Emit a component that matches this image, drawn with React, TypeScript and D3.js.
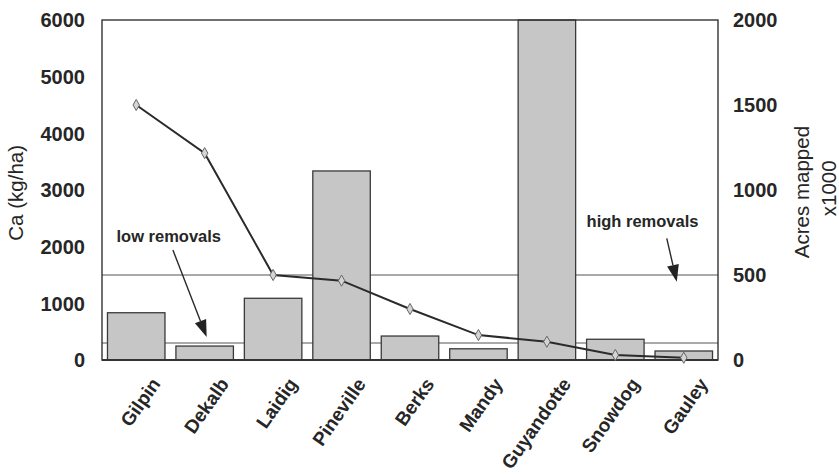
import { useEffect, useRef } from 'react';
import * as d3 from 'd3';

// watersheds / soil series along the x axis
const categories = ['Gilpin', 'Dekalb', 'Laidig', 'Pineville', 'Berks', 'Mandy', 'Guyandotte', 'Snowdog', 'Gauley'];
// bars: acres mapped (x1000), right axis
const acresMapped = [278, 82, 363, 1112, 141, 66, 2000, 122, 53];
// line: Ca (kg/ha), left axis
const calcium = [4500, 3650, 1500, 1400, 900, 440, 323, 88, 40];

const leftTicks = [0, 1000, 2000, 3000, 4000, 5000, 6000];
const rightTicks = [0, 500, 1000, 1500, 2000];
const refLines = [100, 500]; // right-axis reference lines

export default function App() {
  const svgRef = useRef<SVGSVGElement>(null);

  useEffect(() => {
    document.body.style.margin = '0';
    if (!svgRef.current) return;
    const svg = d3.select(svgRef.current);
    svg.selectAll('*').remove();

    const W = 839, H = 475;
    const m = { t: 20, r: 121, b: 115, l: 102 };
    const x0 = m.l, x1 = W - m.r, y0 = H - m.b, y1 = m.t;
    const font = 'Liberation Sans, Arial, Helvetica, sans-serif';
    const ink = '#262626';

    svg.append('rect').attr('width', W).attr('height', H).attr('fill', '#fff');

    const x = d3.scaleBand<string>().domain(categories).range([x0, x1]).paddingInner(0.16).paddingOuter(0.08);
    const yL = d3.scaleLinear().domain([0, 6000]).range([y0, y1]);
    const yR = d3.scaleLinear().domain([0, 2000]).range([y0, y1]);
    const cx = (c: string) => (x(c) ?? 0) + x.bandwidth() / 2;

    const g = svg.append('g');

    // reference lines
    g.selectAll('line.ref').data(refLines).enter().append('line')
      .attr('x1', x0).attr('x2', x1).attr('y1', d => yR(d)).attr('y2', d => yR(d))
      .attr('stroke', '#555').attr('stroke-width', 1);

    // bars
    g.selectAll('rect.bar').data(categories).enter().append('rect')
      .attr('x', d => x(d) ?? 0).attr('width', x.bandwidth())
      .attr('y', (_, i) => yR(acresMapped[i])).attr('height', (_, i) => y0 - yR(acresMapped[i]))
      .attr('fill', '#c6c6c6').attr('stroke', '#3a3a3a').attr('stroke-width', 1.3);

    // frame
    g.append('rect').attr('x', x0).attr('y', y1).attr('width', x1 - x0).attr('height', y0 - y1)
      .attr('fill', 'none').attr('stroke', '#333').attr('stroke-width', 1.4);
    g.append('line').attr('x1', x0).attr('x2', x1).attr('y1', y0).attr('y2', y0)
      .attr('stroke', '#333').attr('stroke-width', 2.2);

    // Ca line
    const line = d3.line<number>().x((_, i) => cx(categories[i])).y(d => yL(d));
    g.append('path').datum(calcium).attr('d', line)
      .attr('fill', 'none').attr('stroke', '#2a2a2a').attr('stroke-width', 2);
    g.selectAll('path.pt').data(calcium).enter().append('path')
      .attr('d', d3.symbol().type(d3.symbolDiamond).size(36)())
      .attr('transform', (d, i) => `translate(${cx(categories[i])},${yL(d)})`)
      .attr('fill', '#d4d4d4').attr('stroke', '#666').attr('stroke-width', 1);

    // left axis labels
    g.selectAll('text.yl').data(leftTicks).enter().append('text')
      .attr('x', x0 - 17).attr('y', d => yL(d)).attr('dy', '0.36em')
      .attr('text-anchor', 'end').attr('font-family', font).attr('font-weight', 'bold')
      .attr('font-size', 20).attr('fill', ink).text(d => d);

    // right axis labels
    g.selectAll('text.yr').data(rightTicks).enter().append('text')
      .attr('x', x1 + 15).attr('y', d => yR(d)).attr('dy', '0.36em')
      .attr('text-anchor', 'start').attr('font-family', font).attr('font-weight', 'bold')
      .attr('font-size', 20).attr('fill', ink).text(d => d);

    // category labels
    g.selectAll('text.cat').data(categories).enter().append('text')
      .attr('transform', d => `translate(${cx(d) + 25},${y0 + 24}) rotate(-55)`)
      .attr('text-anchor', 'end').attr('font-family', font).attr('font-weight', 'bold')
      .attr('font-size', 19).attr('fill', ink).text(d => d);

    // axis titles
    g.append('text').attr('transform', `translate(23,${yL(2950)}) rotate(-90)`)
      .attr('text-anchor', 'middle').attr('font-family', font).attr('font-size', 20.5)
      .attr('fill', ink).text('Ca (kg/ha)');
    g.append('text').attr('transform', `translate(809,${yR(988)}) rotate(-90)`)
      .attr('text-anchor', 'middle').attr('font-family', font).attr('font-size', 20.5)
      .attr('fill', ink).text('Acres mapped');
    g.append('text').attr('transform', `translate(836,${yR(1010)}) rotate(-90)`)
      .attr('text-anchor', 'middle').attr('font-family', font).attr('font-size', 20.5)
      .attr('fill', ink).text('x1000');

    // annotations
    const arrow = (xa: number, ya: number, xb: number, yb: number) => {
      const ang = Math.atan2(yb - ya, xb - xa);
      const L = 17, hw = 6;
      const bx = xb - L * Math.cos(ang), by = yb - L * Math.sin(ang);
      g.append('line').attr('x1', xa).attr('y1', ya).attr('x2', bx).attr('y2', by)
        .attr('stroke', '#2a2a2a').attr('stroke-width', 1.4);
      const px = -Math.sin(ang) * hw, py = Math.cos(ang) * hw;
      g.append('path').attr('d', `M${xb},${yb}L${bx + px},${by + py}L${bx - px},${by - py}Z`)
        .attr('fill', '#222');
    };

    g.append('text').attr('x', (x('Gilpin') ?? 0) + 9).attr('y', yL(2090))
      .attr('font-family', font).attr('font-weight', 'bold').attr('font-size', 16.5)
      .attr('fill', ink).text('low removals');
    arrow((x('Dekalb') ?? 0) - 3, yL(1940), cx('Dekalb') + 2, yR(135));

    g.append('text').attr('x', (x('Snowdog') ?? 0)).attr('y', yR(785))
      .attr('font-family', font).attr('font-weight', 'bold').attr('font-size', 16.5)
      .attr('fill', ink).text('high removals');
    arrow(cx('Gauley') - 17, yR(715), cx('Gauley') - 7, yR(460));
  }, []);

  return <svg ref={svgRef} width={839} height={475} style={{ display: 'block' }} />;
}
